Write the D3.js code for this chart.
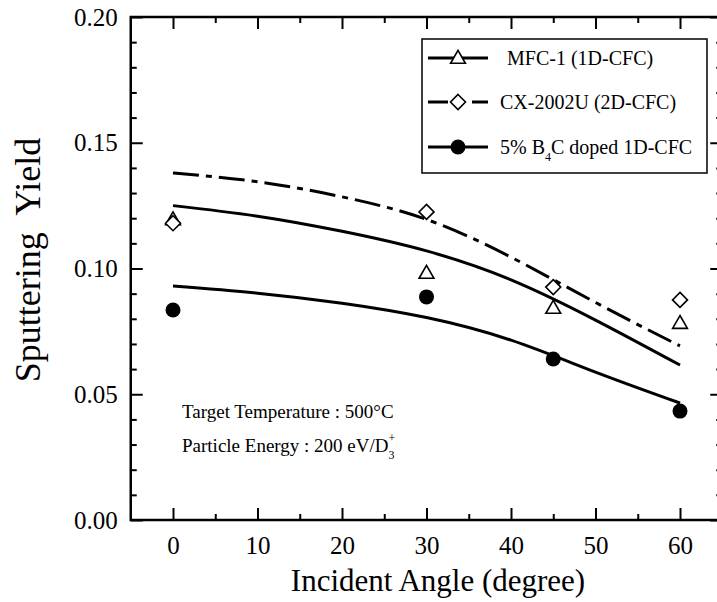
<!DOCTYPE html>
<html>
<head>
<meta charset="utf-8">
<script src="https://cdn.jsdelivr.net/npm/d3@7"></script>
<style>
  body { margin: 0; background: #fff; }
  svg { display: block; font-family: "Liberation Serif", "Times New Roman", serif; }
</style>
</head>
<body>
<svg id="chart"></svg>
<script>
// measured points
const angles = [0, 30, 45, 60];
const mfcYield = [0.1195, 0.0982, 0.0843, 0.0783];
const cxYield = [0.118, 0.1225, 0.0926, 0.0875];
const b4cYield = [0.0835, 0.0887, 0.064, 0.0433];

// fitted curves
const fitAngles = [0, 10, 20, 30, 40, 50, 60];
const mfcFit = [0.125, 0.1208, 0.1148, 0.107, 0.0955, 0.0795, 0.0616];
const cxFit = [0.138, 0.1345, 0.1285, 0.1195, 0.1045, 0.0865, 0.0692];
const b4cFit = [0.093, 0.0902, 0.0862, 0.0805, 0.0715, 0.0588, 0.0465];

const xTicks = [0, 10, 20, 30, 40, 50, 60];
const xMinor = [5, 15, 25, 35, 45, 55];
const yTicks = [0, 0.05, 0.1, 0.15, 0.2];
const yMinor = d3.range(1, 20).map((i) => i / 100).filter((v) => Math.round(v * 100) % 5 !== 0);

const W = 717, H = 602;
const svg = d3.select("#chart").attr("width", W).attr("height", H);

const x = d3.scaleLinear().domain([-5, 65]).range([130.75, 722.25]);
const y = d3.scaleLinear().domain([0, 0.2]).range([520, 17]);

const plotLeft = x(-5), plotRight = x(65), plotTop = y(0.2), plotBottom = y(0);

// axes (ticks point inward)
function addAxis(axis, tx, ty) {
  const g = svg.append("g").attr("transform", `translate(${tx},${ty})`).call(axis);
  g.attr("font-family", null).attr("font-size", null);
  g.select(".domain").remove();
  g.selectAll("line").attr("stroke", "#000").attr("stroke-width", 2);
  g.selectAll("text").attr("fill", "#000").style("font-size", "25px");
  return g;
}

addAxis(d3.axisBottom(x).tickValues(xTicks).tickSize(-12).tickPadding(0).tickFormat(d3.format("d")), 0, plotBottom)
  .selectAll("text").attr("y", 34).attr("dy", 0);
addAxis(d3.axisBottom(x).tickValues(xMinor).tickSize(-6).tickFormat(""), 0, plotBottom);
addAxis(d3.axisTop(x).tickValues(xTicks).tickSize(-12).tickFormat(""), 0, plotTop);
addAxis(d3.axisTop(x).tickValues(xMinor).tickSize(-6).tickFormat(""), 0, plotTop);

addAxis(d3.axisLeft(y).tickValues(yTicks).tickSize(-12).tickPadding(13).tickFormat(d3.format(".2f")), plotLeft, 0);
addAxis(d3.axisLeft(y).tickValues(yMinor).tickSize(-6).tickFormat(""), plotLeft, 0);
addAxis(d3.axisRight(y).tickValues(yTicks).tickSize(-12).tickFormat(""), plotRight, 0);
addAxis(d3.axisRight(y).tickValues(yMinor).tickSize(-6).tickFormat(""), plotRight, 0);

// frame
svg.append("rect")
  .attr("x", plotLeft).attr("y", plotTop)
  .attr("width", plotRight - plotLeft).attr("height", plotBottom - plotTop)
  .attr("fill", "none").attr("stroke", "#000").attr("stroke-width", 2.5);

// axis titles
svg.append("text")
  .attr("x", 438).attr("y", 591)
  .attr("text-anchor", "middle")
  .style("font-size", "31px")
  .text("Incident Angle (degree)");

svg.append("text")
  .attr("transform", "translate(40,260) rotate(-90)")
  .attr("text-anchor", "middle")
  .style("font-size", "36px")
  .style("white-space", "pre")
  .text("Sputtering  Yield");

// fitted curves
const line = d3.line().x((d) => x(d[0])).y((d) => y(d[1])).curve(d3.curveNatural);
const curves = [
  { values: mfcFit, dash: null },
  { values: cxFit, dash: "26,7,6,7" },
  { values: b4cFit, dash: null },
];
svg.append("g").selectAll("path")
  .data(curves)
  .join("path")
  .attr("d", (c) => line(fitAngles.map((a, i) => [a, c.values[i]])))
  .attr("fill", "none")
  .attr("stroke", "#000")
  .attr("stroke-width", 3)
  .attr("stroke-dasharray", (c) => c.dash);

// markers
const triangle = d3.symbol().type(d3.symbolTriangle).size(95);
const diamond = "M0,-7.5L7.5,0L0,7.5L-7.5,0Z";

function drawTriangle(g, px, py) {
  g.append("path").attr("d", triangle).attr("transform", `translate(${px},${py + 1})`)
    .attr("fill", "#fff").attr("stroke", "#000").attr("stroke-width", 1.6);
}
function drawDiamond(g, px, py) {
  g.append("path").attr("d", diamond).attr("transform", `translate(${px},${py})`)
    .attr("fill", "#fff").attr("stroke", "#000").attr("stroke-width", 1.6);
}
function drawCircle(g, px, py) {
  g.append("circle").attr("cx", px).attr("cy", py).attr("r", 7.5).attr("fill", "#000");
}

const marks = svg.append("g");
angles.forEach((a, i) => {
  drawTriangle(marks, x(a), y(mfcYield[i]));
  drawDiamond(marks, x(a), y(cxYield[i]));
  drawCircle(marks, x(a), y(b4cYield[i]));
});

// legend
const lg = svg.append("g");
lg.append("rect").attr("x", 422).attr("y", 39).attr("width", 285).attr("height", 134)
  .attr("fill", "#fff").attr("stroke", "#000").attr("stroke-width", 1.5);

const rows = [58, 102, 147];
lg.append("line").attr("x1", 428).attr("x2", 488).attr("y1", rows[0]).attr("y2", rows[0])
  .attr("stroke", "#000").attr("stroke-width", 3);
drawTriangle(lg, 458, rows[0]);
lg.append("line").attr("x1", 428).attr("x2", 488).attr("y1", rows[1]).attr("y2", rows[1])
  .attr("stroke", "#000").attr("stroke-width", 3).attr("stroke-dasharray", "20,24,18");
drawDiamond(lg, 458, rows[1]);
lg.append("line").attr("x1", 428).attr("x2", 488).attr("y1", rows[2]).attr("y2", rows[2])
  .attr("stroke", "#000").attr("stroke-width", 3);
drawCircle(lg, 458, rows[2]);

lg.append("text").attr("x", 507).attr("y", rows[0] + 7).style("font-size", "20px").text("MFC-1 (1D-CFC)");
lg.append("text").attr("x", 500).attr("y", rows[1] + 7).style("font-size", "20px").text("CX-2002U (2D-CFC)");
const t3 = lg.append("text").attr("x", 500).attr("y", rows[2] + 7).style("font-size", "20px");
t3.append("tspan").text("5% B");
t3.append("tspan").attr("dy", 7).style("font-size", "12px").text("4");
t3.append("tspan").attr("dy", -7).text("C doped 1D-CFC");

// annotations
svg.append("text").attr("x", 182).attr("y", 418).style("font-size", "19px")
  .text("Target Temperature : 500°C");
const t4 = svg.append("text").attr("x", 182).attr("y", 452).style("font-size", "19px");
t4.append("tspan").text("Particle Energy : 200 eV/D");
t4.append("tspan").attr("dy", 7).style("font-size", "12px").text("3");
t4.append("tspan").attr("dx", -6).attr("dy", -17).style("font-size", "12px").text("+");
</script>
</body>
</html>
